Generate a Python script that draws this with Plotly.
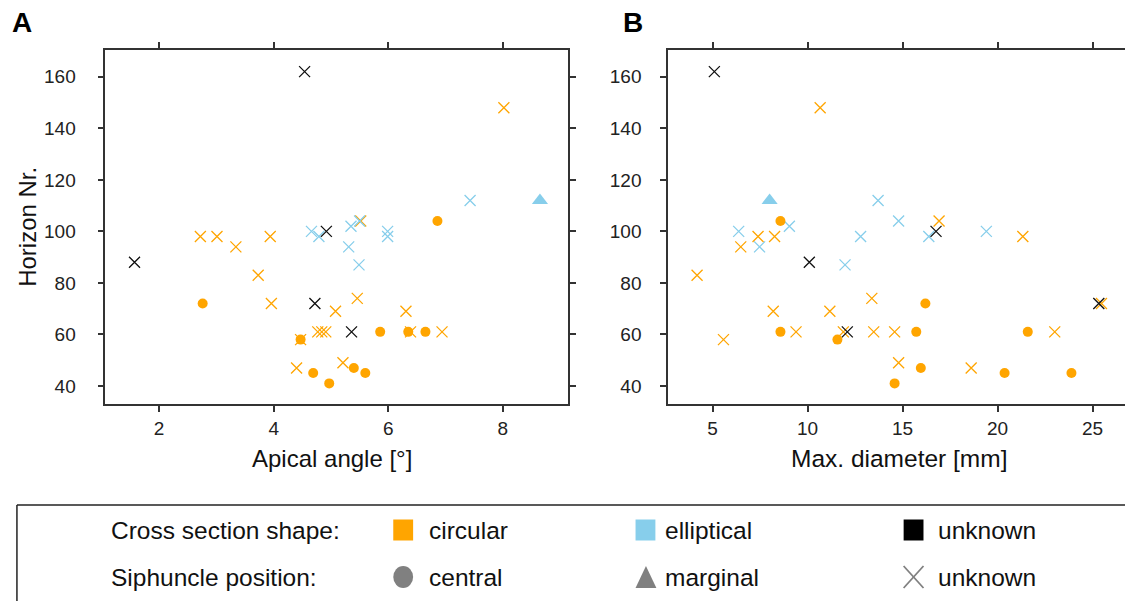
import plotly.graph_objects as go

# ---------------- data ----------------
# circular cross section, central siphuncle
circ_cen_horizon = [104, 72, 61, 61, 61, 58, 45, 41, 47, 45]
circ_cen_apical = [6.86, 2.76, 5.86, 6.35, 6.65, 4.47, 4.69, 4.97, 5.40, 5.60]
circ_cen_diam = [8.57, 16.20, 8.57, 15.72, 21.59, 11.57, 20.37, 14.58, 15.96, 23.89]

# circular cross section, unknown siphuncle
circ_unk_horizon = [148, 104, 98, 98, 98, 94, 83, 74, 72, 69, 69, 61, 61, 61, 61, 61, 58, 49, 47]
circ_unk_apical = [8.02, 5.52, 2.72, 3.01, 3.94, 3.34, 3.73, 5.46, 3.96, 5.08, 6.31,
                   4.77, 4.91, 6.39, 6.94, 4.84, 4.47, 5.21, 4.40]
circ_unk_diam = [10.66, 16.92, 7.39, 8.26, 21.33, 6.48, 4.18, 13.38, 25.47, 8.19, 11.17,
                 9.39, 11.88, 13.48, 14.58, 23.01, 5.57, 14.79, 18.61]

# elliptical cross section, unknown siphuncle
ell_unk_horizon = [112, 104, 102, 100, 100, 98, 98, 94, 87]
ell_unk_apical = [7.43, 5.50, 5.35, 4.66, 5.99, 4.79, 5.99, 5.31, 5.49]
ell_unk_diam = [13.71, 14.79, 9.04, 6.37, 19.41, 12.79, 16.38, 7.47, 11.97]

# elliptical cross section, marginal siphuncle
ell_mar_horizon = [112]
ell_mar_apical = [8.65]
ell_mar_diam = [8.0]

# unknown cross section, unknown siphuncle
unk_unk_horizon = [162, 100, 88, 72, 61]
unk_unk_apical = [4.54, 4.92, 1.57, 4.72, 5.36]
unk_unk_diam = [5.09, 16.76, 10.09, 25.33, 12.09]

y_ticks = [40, 60, 80, 100, 120, 140, 160]
xA_ticks = [2, 4, 6, 8]
xB_ticks = [5, 10, 15, 20, 25]

ORANGE = "#FFA500"
BLUE = "#87CEEB"
BLACK = "#111111"
GREY = "#808080"
FONT = "Liberation Sans, Arial, sans-serif"

W, H = 1133, 601
OFF = 8  # page body margin


def px(x):
    return (x - OFF) / W


def py(y):
    return 1 - (y - OFF) / H


fig = go.Figure()

groups = [
    (circ_unk_apical, circ_unk_diam, circ_unk_horizon, ORANGE, "x-thin"),
    (ell_unk_apical, ell_unk_diam, ell_unk_horizon, BLUE, "x-thin"),
    (unk_unk_apical, unk_unk_diam, unk_unk_horizon, BLACK, "x-thin"),
    (circ_cen_apical, circ_cen_diam, circ_cen_horizon, ORANGE, "circle"),
    (ell_mar_apical, ell_mar_diam, ell_mar_horizon, BLUE, "triangle-up"),
]

for ap, dm, hz, col, sym in groups:
    if sym == "x-thin":
        marker = dict(symbol=sym, size=11, line=dict(color=col, width=1.3), color=col)
    elif sym == "circle":
        marker = dict(symbol=sym, size=10, color=col, line=dict(width=0))
    else:
        marker = dict(symbol=sym, size=14, color=col, line=dict(width=0))
    fig.add_trace(go.Scatter(x=ap, y=hz, mode="markers", marker=marker,
                             xaxis="x", yaxis="y", showlegend=False))
    fig.add_trace(go.Scatter(x=dm, y=hz, mode="markers", marker=marker,
                             xaxis="x2", yaxis="y2", showlegend=False))

axis_common = dict(
    showgrid=False, zeroline=False, showline=True, linecolor="#333333", linewidth=1.5,
    mirror="ticks", ticks="outside", ticklen=6, tickwidth=1.5, tickcolor="#333333",
    tickfont=dict(family=FONT, size=19, color="#222222"),
)

yA_dom = [py(404), py(50)]
fig.update_layout(
    width=W, height=H,
    margin=dict(l=0, r=0, t=0, b=0),
    paper_bgcolor="white", plot_bgcolor="white",
    font=dict(family=FONT),
    xaxis=dict(domain=[px(106), px(572)], range=[1.06, 9.14], tickvals=xA_ticks,
               ticklabelstandoff=0, anchor="y", **axis_common),
    yaxis=dict(domain=yA_dom, range=[33.0, 170.4], tickvals=y_ticks,
               ticklabelstandoff=18, anchor="x", **axis_common),
    xaxis2=dict(domain=[px(672.7), 1.0], range=[2.65, 27.13], tickvals=xB_ticks,
                ticklabelstandoff=0, anchor="y2", **axis_common),
    yaxis2=dict(domain=yA_dom, range=[33.0, 170.4], tickvals=y_ticks,
                ticklabelstandoff=15, anchor="x2", **axis_common),
)

ann = []
# axis titles
ann.append(dict(text="Apical angle [°]", x=px(334), y=py(458), xref="paper",
                yref="paper", showarrow=False, font=dict(size=24, color="#111111"),
                xanchor="center", yanchor="middle"))
ann.append(dict(text="Max. diameter [mm]", x=px(905), y=py(458), xref="paper",
                yref="paper", showarrow=False, font=dict(size=24.5, color="#111111"),
                xanchor="center", yanchor="middle"))
ann.append(dict(text="Horizon Nr.", x=px(27), y=py(227), xref="paper", yref="paper",
                showarrow=False, textangle=-90, font=dict(size=24, color="#111111"),
                xanchor="center", yanchor="middle"))
# panel letters
ann.append(dict(text="<b>A</b>", x=px(10), y=py(23), xref="paper", yref="paper",
                showarrow=False, font=dict(size=28, color="#000000"),
                xanchor="left", yanchor="middle"))
ann.append(dict(text="<b>B</b>", x=px(625), y=py(23), xref="paper", yref="paper",
                showarrow=False, font=dict(size=28, color="#000000"),
                xanchor="left", yanchor="middle"))

# legend texts
row1, row2 = 530, 577
legend_labels = [
    ("Cross section shape:", 110, row1),
    ("Siphuncle position:", 110, row2),
    ("circular", 430, row1),
    ("elliptical", 668, row1),
    ("unknown", 943, row1),
    ("central", 430, row2),
    ("marginal", 668, row2),
    ("unknown", 943, row2),
]
for txt, x0, y0 in legend_labels:
    ann.append(dict(text=txt, x=px(x0), y=py(y0), xref="paper", yref="paper",
                    showarrow=False, font=dict(size=24.5, color="#111111"),
                    xanchor="left", yanchor="middle"))
fig.update_layout(annotations=ann)

shapes = []
# legend frame
shapes.append(dict(type="line", xref="paper", yref="paper", x0=px(17), x1=1.0,
                   y0=py(505), y1=py(505), line=dict(color="#222222", width=1.5)))
shapes.append(dict(type="line", xref="paper", yref="paper", x0=px(17), x1=px(17),
                   y0=py(505), y1=0, line=dict(color="#222222", width=1.5)))
# colour squares
for col, x0 in [(ORANGE, 396), (BLUE, 640), ("#000000", 910)]:
    shapes.append(dict(type="rect", xref="paper", yref="paper", x0=px(x0), x1=px(x0 + 20),
                       y0=py(row1 - 10.5), y1=py(row1 + 10.5), fillcolor=col,
                       line=dict(width=0)))
# grey circle
shapes.append(dict(type="circle", xref="paper", yref="paper", x0=px(396), x1=px(416),
                   y0=py(row2 - 11), y1=py(row2 + 11), fillcolor=GREY, line=dict(width=0)))
# grey triangle
tri = "M {} {} L {} {} L {} {} Z".format(px(640), py(row2 + 11), px(661), py(row2 + 11),
                                          px(650.5), py(row2 - 11))
shapes.append(dict(type="path", xref="paper", yref="paper", path=tri, fillcolor=GREY,
                   line=dict(width=0)))
# grey X
shapes.append(dict(type="line", xref="paper", yref="paper", x0=px(910), x1=px(930),
                   y0=py(row2 - 11), y1=py(row2 + 11), line=dict(color=GREY, width=1.8)))
shapes.append(dict(type="line", xref="paper", yref="paper", x0=px(910), x1=px(930),
                   y0=py(row2 + 11), y1=py(row2 - 11), line=dict(color=GREY, width=1.8)))
fig.update_layout(shapes=shapes)

fig.write_html("out.html")
